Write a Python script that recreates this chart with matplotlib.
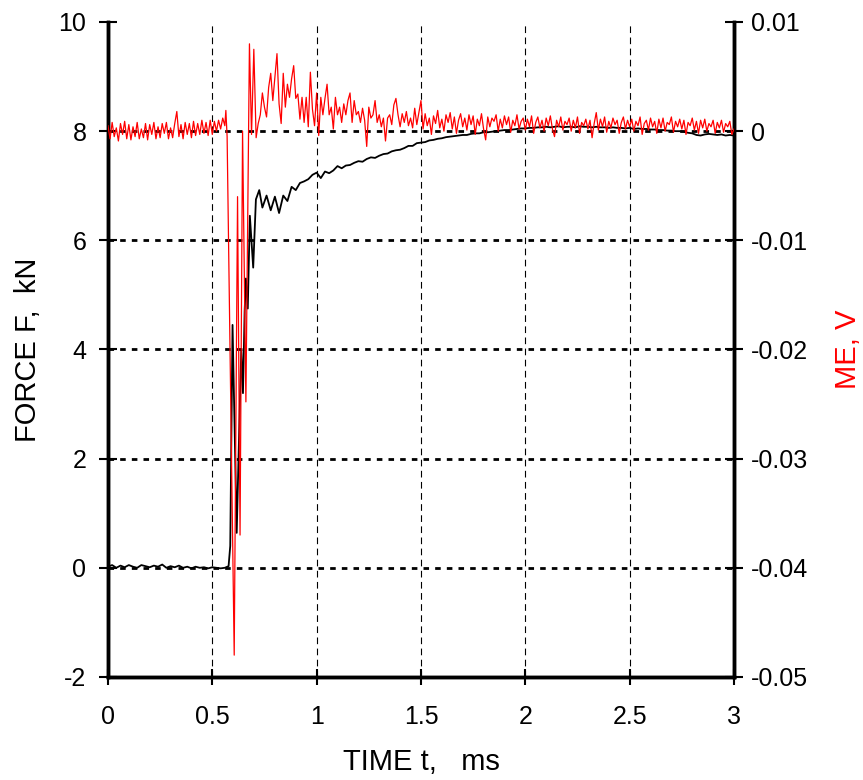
import matplotlib
matplotlib.use('Agg')
import matplotlib.pyplot as plt
import numpy as np

# ---- data ----
# FORCE F (kN), black trace
force_pre = [0.02, 0.05, 0.0, 0.04, 0.01, 0.05, 0.02, 0.0, 0.05, 0.03,
             0.01, 0.04, 0.02, 0.06, 0.0, 0.03, 0.01, 0.04, 0.0, 0.02,
             -0.01, 0.02, 0.0, 0.01, -0.01, 0.01, 0.0, -0.01, 0.0]      # t = 0 .. 0.56
force_hit_t = [0.578, 0.586, 0.597, 0.617, 0.632, 0.639, 0.647, 0.655, 0.661,
               0.670, 0.680, 0.696, 0.709, 0.725]
force_hit = [0.03, 0.4, 4.45, 0.64, 3.0, 4.0, 3.2, 4.7, 5.3,
             4.75, 6.45, 5.5, 6.75, 6.92]
force_post = [6.60, 6.82, 6.55, 6.80, 6.50, 6.82, 6.72, 6.98, 6.92, 7.05,
              7.08, 7.12, 7.20, 7.24, 7.14, 7.26, 7.23, 7.28, 7.36, 7.32,
              7.37, 7.38, 7.42, 7.45, 7.44, 7.49, 7.52, 7.51, 7.55, 7.58,
              7.59, 7.63, 7.65, 7.66, 7.69, 7.73, 7.73, 7.78, 7.79, 7.80,
              7.83, 7.84, 7.86, 7.87, 7.89, 7.90, 7.91, 7.92, 7.93, 7.93,
              7.95, 7.96, 7.96, 7.98, 7.98, 7.99, 8.00, 8.01, 8.02, 8.02,
              8.03, 8.04, 8.05, 8.05, 8.06, 8.06, 8.07, 8.07, 8.08, 8.07,
              8.08, 8.09, 8.07, 8.08, 8.08, 8.07, 8.09, 8.08, 8.08, 8.07,
              8.08, 8.07, 8.07, 8.06, 8.07, 8.06, 8.06, 8.05, 8.06, 8.04,
              8.05, 8.04, 8.04, 8.03, 8.03, 8.02, 8.02, 8.01, 8.01, 8.00,
              8.00, 7.99, 7.97, 7.96, 7.93, 7.92, 7.94, 7.95, 7.94, 7.93,
              7.94, 7.92, 7.93, 7.92]                                    # t = 0.74 .. 3.0

# ME signal (mV), red trace
me_pre = [0.5, -0.7, 0.8, -0.5, 0.3, -0.9, 0.7, -0.3, 0.9, -0.7,
          0.6, -0.8, 0.4, -0.5, 0.8, -0.7, 0.2, -0.6, 0.7, -0.8,
          0.6, -0.3, 0.8, -0.7, 0.4, -0.6, 0.7, -0.2, 0.8, -0.7,
          0.3, -0.6, 0.7, 1.8, -0.5, 0.6, -0.7, 0.8, -0.3, 0.7,
          -0.6, 0.9, -0.4, 0.7, -0.3, 1.0, -0.2, 0.8, -0.4, 1.0,
          -0.3, 0.9, 0.0, 1.0, 0.2, 1.2, 0.5]                           # t = 0 .. 0.56
me_hit_t = [0.565, 0.571, 0.605, 0.621, 0.633, 0.645, 0.661, 0.678, 0.688, 0.699, 0.710]
me_hit = [1.9, -0.5, -48.0, -6.0, -37.0, 0.0, -24.8, 8.0, -0.3, 7.5, -0.6]
me_post = [0.7, 1.5, 3.5, 2.2, 1.3, 4.0, 5.3, 2.8, 5.0, 7.1,
           2.5, 0.7, 5.3, 2.2, 4.3, 3.1, 4.8, 6.0, 3.0, 3.4,
           1.1, 3.1, 0.8, 3.1, 0.4, 5.4, 2.0, 0.5, 3.5, -0.4,
           3.1, 1.5, 3.0, 4.3, 1.5, 2.2, 0.2, 3.1, 1.5, 2.2,
           0.8, 2.5, 1.5, 2.8, 3.5, 0.8, 2.8, 1.5, 1.8, 0.8,
           2.1, 1.0, -1.4, 2.2, 1.2, 1.5, 2.8, 0.8, 1.5, 0.4,
           1.2, -0.9, 1.2, 1.5, 0.6, 2.4, 3.0, 1.5, 0.4, 1.6,
           0.8, 1.8, 0.5, 1.2, 0.3, 2.1, 0.6, 1.7, 2.8,
           0.2, 1.6, 0.5, 1.2, -0.3, 1.4, 0.7, 1.9, 0.3, 1.1,
           0.0, 1.5, 0.8, 1.7, 0.2, 1.3, -0.2, 1.0, 1.6, 0.4,
           1.2, 0.1, 1.5, 0.6, 1.4, -0.3, 1.1, 0.5, 1.6, 0.2,
           -0.8, 1.3, 0.4, 1.2, 0.9, 1.5, 0.0, 1.1, 0.3, 1.4,
           0.6, 1.3, -0.1, 1.0, 0.5, 1.5, 0.2, 0.9, 1.2, 0.1,
           1.1, 0.4, 1.4, -0.2, 0.8, 1.3, 0.3, 1.0, 0.0, 1.2,
           0.5, 1.4, 0.2, -0.5, 1.0, 0.4, 1.3, 0.1, 0.9, 0.6,
           1.2, 0.0, 1.0, 0.3, 1.3, -0.2, 0.8, 0.5, 1.1, 0.2,
           1.0, -0.6, 0.7, 1.7, 0.1, 1.1, 0.4, 1.3, -0.1, 0.9,
           0.3, 1.2, 0.6, 1.0, -0.2, 0.8, 1.3, 0.2, 1.0, 0.4,
           1.1, 0.0, 0.9, 0.5, 1.3, -0.3, 0.7, 1.0, 0.1, 1.2,
           0.4, 0.9, -0.2, 1.1, 0.3, 1.2, 0.0, 0.8, 0.6, 1.3,
           -0.1, 0.9, 0.4, 1.1, 0.2, 1.0, -0.3, 0.8, 0.5, 1.2,
           0.1, 0.9, -0.2, 1.0, 0.3, 1.1, 0.0, 0.7, 0.4, 1.0,
           -0.2, 0.8, 0.3, 1.0, -0.1, 0.7, 0.4, 0.9, -0.3, 0.2]          # t = 0.72 .. 3.0

x_ticks = [0, 0.5, 1, 1.5, 2, 2.5, 3]
x_ticklabels = ['0', '0.5', '1', '1.5', '2', '2.5', '3']
f_ticks = [-2, 0, 2, 4, 6, 8, 10]
me_ticks = [-0.05, -0.04, -0.03, -0.02, -0.01, 0, 0.01]
me_ticklabels = ['-0.05', '-0.04', '-0.03', '-0.02', '-0.01', '0', '0.01']
h_grid = [0, 2, 4, 6, 8]
v_grid = [0.5, 1, 1.5, 2, 2.5]

# time axes for the pieces
t_f = np.concatenate([np.linspace(0, 0.56, len(force_pre)), force_hit_t,
                      np.linspace(0.74, 3.0, len(force_post))])
f_all = np.concatenate([force_pre, force_hit, force_post])
t_me = np.concatenate([np.linspace(0, 0.56, len(me_pre)), me_hit_t,
                       np.linspace(0.72, 3.0, len(me_post))])
me_all = np.concatenate([me_pre, me_hit, me_post]) / 1000.0

label_font = 'Liberation Sans'
tick_font = 'Liberation Sans'

fig = plt.figure(figsize=(8.63, 7.80), dpi=100)
ax = fig.add_axes([0.1251, 0.1321, 0.7254, 0.8397])
ax2 = ax.twinx()

# grid
for g in h_grid:
    ax.axhline(g, color='black', lw=2.0, ls=(0, (2, 2.2)), zorder=1)
for g in v_grid:
    ax.axvline(g, color='black', lw=0.8, ls=(0, (6, 4)), zorder=1)

ax.plot(t_f, f_all, color='black', lw=1.3, zorder=3)
ax2.plot(t_me, me_all, color='#ff0000', lw=0.9, zorder=3)

ax.set_xlim(0, 3)
ax.set_ylim(-2, 10)
ax2.set_ylim(-0.05, 0.01)

ax.set_xticks(x_ticks)
ax.set_xticklabels(x_ticklabels, fontsize=18, family=tick_font)
ax.set_yticks(f_ticks)
ax.set_yticklabels([str(v) for v in f_ticks], fontsize=18, family=tick_font)
ax2.set_yticks(me_ticks)
ax2.set_yticklabels(me_ticklabels, fontsize=18, family=tick_font)

for a in (ax, ax2):
    a.spines['top'].set_visible(False)
    for s in ('left', 'right', 'bottom'):
        a.spines[s].set_linewidth(2.5)
ax.tick_params(axis='y', direction='inout', length=13, width=1.5, pad=9)
ax.tick_params(axis='x', direction='inout', length=12, width=1.5, pad=14)
ax2.tick_params(axis='y', direction='inout', length=13, width=1.5, pad=6)

ax.set_xlabel('TIME t,   ms', fontsize=21, family=label_font, labelpad=14)
ax.set_ylabel('FORCE F,  kN', fontsize=21, family=label_font, labelpad=12)
ax2.set_ylabel('ME, V', fontsize=21, family=label_font, color='#ff0000', labelpad=18)

fig.savefig('out.png', dpi=100)
